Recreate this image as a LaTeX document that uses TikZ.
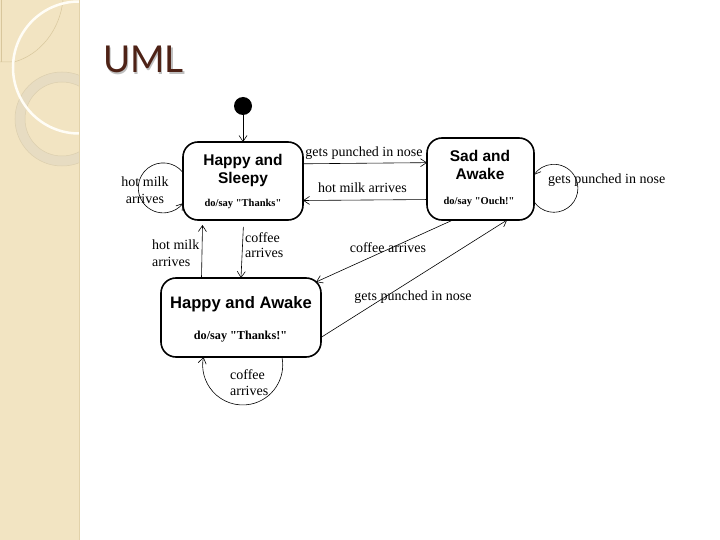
\documentclass[tikz,border=0pt]{standalone}
\usepackage{fontspec}
\setmainfont{Liberation Serif}
\newfontfamily\dofont{Liberation Serif}
\newfontfamily\statefont{Liberation Sans}
\newfontfamily\titlefont{Lato}
\usetikzlibrary{arrows.meta,calc}
\definecolor{stripcol}{HTML}{F2E4C2}
\definecolor{stripedge}{HTML}{E2D2AA}
\definecolor{ringcol}{HTML}{E7DCC2}
\definecolor{ringedge}{HTML}{DCCFAE}
\definecolor{arccol}{HTML}{FFFDF6}
\definecolor{leafcol}{HTML}{D8C69C}
\definecolor{titlecol}{HTML}{4E2216}
\begin{document}
\begin{tikzpicture}[x=1pt,y=-1pt,
  statebox/.style={draw, line width=1.6pt, rounded corners=15pt, inner sep=0pt, outer sep=0pt},
  trans/.style={line width=0.6pt, -{Straight Barb[length=6pt,width=8pt,line width=0.6pt]}},
  lbl/.style={font=\fontsize{14}{16}\selectfont, inner sep=0pt, anchor=base},
  lblw/.style={lbl, anchor=base west},
  titletext/.style={font=\statefont\bfseries\fontsize{15.5}{18}\selectfont, inner sep=0pt, anchor=base},
  bigtitletext/.style={font=\statefont\bfseries\fontsize{16.6}{19}\selectfont, inner sep=0pt, anchor=base},
  dotext/.style={font=\dofont\bfseries\fontsize{10.5}{12}\selectfont, inner sep=0pt, anchor=base},
  bigdotext/.style={font=\dofont\bfseries\fontsize{12.2}{14}\selectfont, inner sep=0pt, anchor=base}]
\useasboundingbox (0,0) rectangle (720,540);
\fill[white] (0,0) rectangle (720,540);
% decorative strip
\fill[stripcol] (0,0) rectangle (79,540);
\begin{scope}
  \clip (0,0) rectangle (79,540);
  \draw[ringcol, line width=10pt] (62,119) circle[radius=42pt];
  \draw[ringedge, line width=0.5pt] (62,119) circle[radius=47pt];
  \draw[ringedge, line width=0.5pt] (62,119) circle[radius=37pt];
  \draw[leafcol, line width=0.5pt] (0,62) -- (14,62) .. controls (40,55) and (60,30) .. (63,0);
  \draw[leafcol, line width=0.5pt] (1,0) -- (1,62);
  \draw[arccol, line width=2.5pt] (79,67.5) circle[radius=66pt];
\end{scope}
\draw[stripedge, line width=0.8pt] (79,0) -- (79,540);
% title
\node[font=\titlefont\fontsize{37}{40}\selectfont, text=black!25, inner sep=0pt, anchor=base west] (titleshadow) at (104.5,74.5) {UML};
\node[font=\titlefont\fontsize{37}{40}\selectfont, text=titlecol, inner sep=0pt, anchor=base west] (title) at (103,73) {UML};
% initial state
\node[circle, fill=black, inner sep=0pt, minimum size=18pt, outer sep=0pt] (init) at (243,106) {};
% states
\node[statebox, minimum width=120pt, minimum height=78pt] (s1) at (243,181) {};
\node[titletext] (s1a) at (243,166) {Happy and};
\node[titletext] (s1b) at (243,184) {Sleepy};
\node[dotext] (s1c) at (243,207) {do/say "Thanks"};
\node[statebox, minimum width=107pt, minimum height=82pt] (s2) at (480.5,179) {};
\node[titletext] (s2a) at (480,161.7) {Sad and};
\node[titletext] (s2b) at (480,180) {Awake};
\node[dotext] (s2c) at (479,205) {do/say "Ouch!"};
\node[statebox, minimum width=160pt, minimum height=79pt] (s3) at (241,317.5) {};
\node[bigtitletext] (s3a) at (241,308) {Happy and Awake};
\node[bigdotext] (s3b) at (240.5,339) {do/say "Thanks!"};
% transitions
\draw[trans] (init) -- (s1.north);
\draw[trans] (s1.16.7) -- (s2.163.4);
\node[lbl] (l12) at (364,156.5) {gets punched in nose};
\draw[trans] (s2.201.4) -- (s1.342.4);
\node[lbl] (l21) at (362.5,193) {hot milk arrives};
% S1 self loop
\draw[trans] (s1.172.9) arc[start angle=37.8, end angle=322.2, radius=25pt];
\node[lbl] (l11a) at (145,187) {hot milk};
\node[lbl] (l11b) at (145,204) {arrives};
% S2 self loop
\draw[trans] (s2.337.1) arc[start angle=214, end angle=506, radius=24pt];
\node[lblw] (l22) at (548,184) {gets punched in nose};
% S3 -> S1
\draw[trans, shorten >=5pt] (s3.135.4) -- (s1.224.3);
\node[lblw] (l31a) at (152,249) {hot milk};
\node[lblw] (l31b) at (152,266) {arrives};
% S1 -> S3
\draw[trans, shorten <=7pt] (s1.271.5) -- (s3.north);
\node[lblw] (l13a) at (245,242) {coffee};
\node[lblw] (l13b) at (245,258) {arrives};
% S2 -> S3
\draw[trans] (s2.236.1) -- ($(s3.north east)+(-5,4)$);
\node[lbl] (l23) at (388,252) {coffee arrives};
% S3 -> S2
\draw[trans] (s3.346.3) -- (s2.303.9);
\node[lbl] (l32) at (413,300) {gets punched in nose};
% S3 self loop
\draw[trans] (s3.316.1) arc[start angle=11.5, end angle=-191.5, radius=40pt];
\node[lblw] (l33a) at (230,379) {coffee};
\node[lblw] (l33b) at (230,395) {arrives};
\end{tikzpicture}
\end{document}
